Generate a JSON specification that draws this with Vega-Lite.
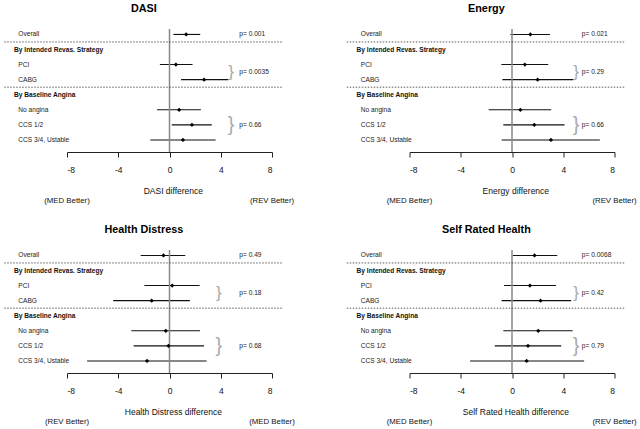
{
  "$schema": "https://vega.github.io/schema/vega-lite/v6.json",
  "padding": {"left": 3, "top": 3, "right": 0, "bottom": 0},
  "background": "white",
  "config": {"view": {"stroke": null}, "font": "Liberation Sans"},
  "data": {"values": [
    {"kind": "title", "panel": "DASI", "label": "DASI", "axis": "DASI difference"},
    {"kind": "title", "panel": "Energy", "label": "Energy", "axis": "Energy difference"},
    {"kind": "title", "panel": "Health Distress", "label": "Health Distress", "axis": "Health Distress difference"},
    {"kind": "title", "panel": "Self Rated Health", "label": "Self Rated Health", "axis": "Self Rated Health difference"},
    {"kind": "better", "panel": "DASI", "label": "(MED Better)", "bx": -8},
    {"kind": "better", "panel": "DASI", "label": "(REV Better)", "bx": 8},
    {"kind": "better", "panel": "Energy", "label": "(MED Better)", "bx": -8},
    {"kind": "better", "panel": "Energy", "label": "(REV Better)", "bx": 8},
    {"kind": "better", "panel": "Health Distress", "label": "(REV Better)", "bx": -8},
    {"kind": "better", "panel": "Health Distress", "label": "(MED Better)", "bx": 8},
    {"kind": "better", "panel": "Self Rated Health", "label": "(MED Better)", "bx": -8},
    {"kind": "better", "panel": "Self Rated Health", "label": "(REV Better)", "bx": 8},
    {"kind": "item", "panel": "DASI", "row": 0, "label": "Overall", "est": 1.3, "lo": 0.3, "hi": 2.4},
    {"kind": "item", "panel": "DASI", "row": 2, "label": "PCI", "est": 0.5, "lo": -0.75, "hi": 1.8},
    {"kind": "item", "panel": "DASI", "row": 3, "label": "CABG", "est": 2.7, "lo": 0.9, "hi": 4.6},
    {"kind": "item", "panel": "DASI", "row": 5, "label": "No angina", "est": 0.75, "lo": -0.97, "hi": 2.45},
    {"kind": "item", "panel": "DASI", "row": 6, "label": "CCS 1/2", "est": 1.75, "lo": 0.18, "hi": 3.3},
    {"kind": "item", "panel": "DASI", "row": 7, "label": "CCS 3/4, Ustable", "est": 1.05, "lo": -1.5, "hi": 3.6},
    {"kind": "item", "panel": "Energy", "row": 0, "label": "Overall", "est": 1.43, "lo": -0.13, "hi": 2.96},
    {"kind": "item", "panel": "Energy", "row": 2, "label": "PCI", "est": 1.0, "lo": -0.83, "hi": 2.83},
    {"kind": "item", "panel": "Energy", "row": 3, "label": "CABG", "est": 2.0, "lo": -0.75, "hi": 4.8},
    {"kind": "item", "panel": "Energy", "row": 5, "label": "No angina", "est": 0.65, "lo": -1.82, "hi": 3.06},
    {"kind": "item", "panel": "Energy", "row": 6, "label": "CCS 1/2", "est": 1.74, "lo": -0.68, "hi": 4.1},
    {"kind": "item", "panel": "Energy", "row": 7, "label": "CCS 3/4, Ustable", "est": 3.04, "lo": -0.81, "hi": 6.86},
    {"kind": "item", "panel": "Health Distress", "row": 0, "label": "Overall", "est": -0.47, "lo": -2.25, "hi": 1.23},
    {"kind": "item", "panel": "Health Distress", "row": 2, "label": "PCI", "est": 0.21, "lo": -1.96, "hi": 2.35},
    {"kind": "item", "panel": "Health Distress", "row": 3, "label": "CABG", "est": -1.39, "lo": -4.39, "hi": 1.59},
    {"kind": "item", "panel": "Health Distress", "row": 5, "label": "No angina", "est": -0.29, "lo": -2.98, "hi": 2.38},
    {"kind": "item", "panel": "Health Distress", "row": 6, "label": "CCS 1/2", "est": -0.08, "lo": -2.8, "hi": 2.69},
    {"kind": "item", "panel": "Health Distress", "row": 7, "label": "CCS 3/4, Ustable", "est": -1.75, "lo": -6.43, "hi": 2.9},
    {"kind": "item", "panel": "Self Rated Health", "row": 0, "label": "Overall", "est": 1.76, "lo": 0.05, "hi": 3.53},
    {"kind": "item", "panel": "Self Rated Health", "row": 2, "label": "PCI", "est": 1.4, "lo": -0.63, "hi": 3.43},
    {"kind": "item", "panel": "Self Rated Health", "row": 3, "label": "CABG", "est": 2.23, "lo": -0.81, "hi": 4.62},
    {"kind": "item", "panel": "Self Rated Health", "row": 5, "label": "No angina", "est": 2.05, "lo": -0.68, "hi": 4.73},
    {"kind": "item", "panel": "Self Rated Health", "row": 6, "label": "CCS 1/2", "est": 1.25, "lo": -1.35, "hi": 3.84},
    {"kind": "item", "panel": "Self Rated Health", "row": 7, "label": "CCS 3/4, Ustable", "est": 1.14, "lo": -3.27, "hi": 5.63},
    {"kind": "header", "panel": "DASI", "row": 1, "label": "By Intended Revas. Strategy"},
    {"kind": "header", "panel": "DASI", "row": 4, "label": "By Baseline Angina"},
    {"kind": "header", "panel": "Energy", "row": 1, "label": "By Intended Revas. Strategy"},
    {"kind": "header", "panel": "Energy", "row": 4, "label": "By Baseline Angina"},
    {"kind": "header", "panel": "Health Distress", "row": 1, "label": "By Intended Revas. Strategy"},
    {"kind": "header", "panel": "Health Distress", "row": 4, "label": "By Baseline Angina"},
    {"kind": "header", "panel": "Self Rated Health", "row": 1, "label": "By Intended Revas. Strategy"},
    {"kind": "header", "panel": "Self Rated Health", "row": 4, "label": "By Baseline Angina"},
    {"kind": "sep", "panel": "DASI", "row": 0.5},
    {"kind": "sep", "panel": "DASI", "row": 3.5},
    {"kind": "sep", "panel": "Energy", "row": 0.5},
    {"kind": "sep", "panel": "Energy", "row": 3.5},
    {"kind": "sep", "panel": "Health Distress", "row": 0.5},
    {"kind": "sep", "panel": "Health Distress", "row": 3.5},
    {"kind": "sep", "panel": "Self Rated Health", "row": 0.5},
    {"kind": "sep", "panel": "Self Rated Health", "row": 3.5},
    {"kind": "p", "panel": "DASI", "row": 0, "label": "p= 0.001"},
    {"kind": "p", "panel": "DASI", "row": 2.5, "label": "p= 0.0035"},
    {"kind": "p", "panel": "DASI", "row": 6, "label": "p= 0.66"},
    {"kind": "p", "panel": "Energy", "row": 0, "label": "p= 0.021"},
    {"kind": "p", "panel": "Energy", "row": 2.5, "label": "p= 0.29"},
    {"kind": "p", "panel": "Energy", "row": 6, "label": "p= 0.66"},
    {"kind": "p", "panel": "Health Distress", "row": 0, "label": "p= 0.49"},
    {"kind": "p", "panel": "Health Distress", "row": 2.5, "label": "p= 0.18"},
    {"kind": "p", "panel": "Health Distress", "row": 6, "label": "p= 0.68"},
    {"kind": "p", "panel": "Self Rated Health", "row": 0, "label": "p= 0.0068"},
    {"kind": "p", "panel": "Self Rated Health", "row": 2.5, "label": "p= 0.42"},
    {"kind": "p", "panel": "Self Rated Health", "row": 6, "label": "p= 0.79"},
    {"kind": "brace", "group": "s", "panel": "DASI", "row": 2.5, "bx": 4.8},
    {"kind": "brace", "group": "a", "panel": "DASI", "row": 6, "bx": 4.8},
    {"kind": "brace", "group": "s", "panel": "Energy", "row": 2.5, "bx": 5.0},
    {"kind": "brace", "group": "a", "panel": "Energy", "row": 6, "bx": 5.0},
    {"kind": "brace", "group": "s", "panel": "Health Distress", "row": 2.5, "bx": 3.86},
    {"kind": "brace", "group": "a", "panel": "Health Distress", "row": 6, "bx": 3.86},
    {"kind": "brace", "group": "s", "panel": "Self Rated Health", "row": 2.5, "bx": 5.0},
    {"kind": "brace", "group": "a", "panel": "Self Rated Health", "row": 6, "bx": 5.0}
  ]},
  "columns": 2,
  "bounds": "flush",
  "spacing": {"row": 98, "column": 137.5},
  "concat": [
    {
      "width": 205, "height": 123,
      "transform": [{"filter": "datum.panel === 'DASI'"}],
      "layer": [
        {"transform": [{"filter": "datum.kind === 'item'"}], "mark": {"type": "rule", "color": "#111", "strokeWidth": 1.1},
          "encoding": {
            "x": {"field": "lo", "type": "quantitative", "scale": {"domain": [-8, 8], "nice": false, "zero": false},
              "axis": {"values": [-8, -4, 0, 4, 8], "title": null, "grid": false, "domain": true, "domainColor": "#222", "domainWidth": 1, "ticks": true, "tickColor": "#222", "tickSize": 5, "tickWidth": 1, "labelFontSize": 8.5, "labelColor": "#111", "labelPadding": 8, "labelExpr": "'' + datum.value", "labelFont": "Liberation Sans"}},
            "x2": {"field": "hi"},
            "y": {"field": "row", "type": "quantitative", "scale": {"domain": [-0.36, 7.8], "reverse": true, "nice": false, "zero": false}, "axis": null}}},
        {"transform": [{"filter": "datum.kind === 'title'"}], "mark": {"type": "rule", "color": "#888", "strokeWidth": 1.5},
          "encoding": {"x": {"datum": 0, "type": "quantitative", "title": null}}},
        {"transform": [{"filter": "datum.kind === 'sep'"}], "mark": {"type": "rule", "color": "#333", "strokeWidth": 0.8, "strokeDash": [1.5, 1.5]},
          "encoding": {"x": {"datum": -12.9, "type": "quantitative", "title": null}, "x2": {"datum": 8.87}, "y": {"field": "row", "type": "quantitative", "axis": null}}},
        {"transform": [{"filter": "datum.kind === 'item'"}], "mark": {"type": "point", "shape": "diamond", "filled": true, "color": "#000", "size": 18, "opacity": 1},
          "encoding": {"x": {"field": "est", "type": "quantitative", "title": null}, "y": {"field": "row", "type": "quantitative", "axis": null}}},
        {"transform": [{"filter": "datum.kind === 'item'"}], "mark": {"type": "text", "align": "left", "baseline": "middle", "fontSize": 6.6, "color": "#222"},
          "encoding": {"x": {"datum": -11.8, "type": "quantitative", "title": null}, "y": {"field": "row", "type": "quantitative", "axis": null}, "text": {"field": "label"}}},
        {"transform": [{"filter": "datum.kind === 'header'"}], "mark": {"type": "text", "align": "left", "baseline": "middle", "fontSize": 6.6, "fontWeight": "bold", "color": "#111"},
          "encoding": {"x": {"datum": -12.13, "type": "quantitative", "title": null}, "y": {"field": "row", "type": "quantitative", "axis": null}, "text": {"field": "label"}}},
        {"transform": [{"filter": "datum.kind === 'p'"}], "mark": {"type": "text", "align": "left", "baseline": "middle", "fontSize": 6.6, "color": "#222"},
          "encoding": {"x": {"datum": 5.45, "type": "quantitative", "title": null}, "y": {"field": "row", "type": "quantitative", "axis": null}, "text": {"field": "label"}}},
        {"transform": [{"filter": "datum.kind === 'brace' && datum.group === 's'"}], "mark": {"type": "text", "align": "center", "baseline": "middle", "fontSize": 17, "color": "#aaa", "text": "}"},
          "encoding": {"x": {"field": "bx", "type": "quantitative", "title": null}, "y": {"field": "row", "type": "quantitative", "axis": null}}},
        {"transform": [{"filter": "datum.kind === 'brace' && datum.group === 'a'"}], "mark": {"type": "text", "align": "center", "baseline": "middle", "fontSize": 20, "color": "#aaa", "text": "}"},
          "encoding": {"x": {"field": "bx", "type": "quantitative", "title": null}, "y": {"field": "row", "type": "quantitative", "axis": null}}},
        {"transform": [{"filter": "datum.kind === 'title'"}], "mark": {"type": "text", "align": "center", "baseline": "middle", "fontSize": 10.8, "fontWeight": "bold", "color": "#000"},
          "encoding": {"x": {"datum": -2, "type": "quantitative", "title": null}, "y": {"datum": -1.67, "type": "quantitative", "axis": null}, "text": {"field": "label"}}},
        {"transform": [{"filter": "datum.kind === 'title'"}], "mark": {"type": "text", "align": "center", "baseline": "middle", "fontSize": 8.5, "color": "#111"},
          "encoding": {"x": {"datum": 0.3, "type": "quantitative", "title": null}, "y": {"datum": 10.37, "type": "quantitative", "axis": null}, "text": {"field": "axis"}}},
        {"transform": [{"filter": "datum.kind === 'better'"}], "mark": {"type": "text", "align": "center", "baseline": "middle", "fontSize": 7.8, "color": "#111"},
          "encoding": {"x": {"field": "bx", "type": "quantitative", "title": null}, "y": {"datum": 11.07, "type": "quantitative", "axis": null}, "text": {"field": "label"}}}
      ]
    },
    {
      "width": 205, "height": 123,
      "transform": [{"filter": "datum.panel === 'Energy'"}],
      "layer": [
        {"transform": [{"filter": "datum.kind === 'item'"}], "mark": {"type": "rule", "color": "#111", "strokeWidth": 1.1},
          "encoding": {
            "x": {"field": "lo", "type": "quantitative", "scale": {"domain": [-8, 8], "nice": false, "zero": false},
              "axis": {"values": [-8, -4, 0, 4, 8], "title": null, "grid": false, "domain": true, "domainColor": "#222", "domainWidth": 1, "ticks": true, "tickColor": "#222", "tickSize": 5, "tickWidth": 1, "labelFontSize": 8.5, "labelColor": "#111", "labelPadding": 8, "labelExpr": "'' + datum.value", "labelFont": "Liberation Sans"}},
            "x2": {"field": "hi"},
            "y": {"field": "row", "type": "quantitative", "scale": {"domain": [-0.36, 7.8], "reverse": true, "nice": false, "zero": false}, "axis": null}}},
        {"transform": [{"filter": "datum.kind === 'title'"}], "mark": {"type": "rule", "color": "#888", "strokeWidth": 1.5},
          "encoding": {"x": {"datum": 0, "type": "quantitative", "title": null}}},
        {"transform": [{"filter": "datum.kind === 'sep'"}], "mark": {"type": "rule", "color": "#333", "strokeWidth": 0.8, "strokeDash": [1.5, 1.5]},
          "encoding": {"x": {"datum": -12.9, "type": "quantitative", "title": null}, "x2": {"datum": 8.87}, "y": {"field": "row", "type": "quantitative", "axis": null}}},
        {"transform": [{"filter": "datum.kind === 'item'"}], "mark": {"type": "point", "shape": "diamond", "filled": true, "color": "#000", "size": 18, "opacity": 1},
          "encoding": {"x": {"field": "est", "type": "quantitative", "title": null}, "y": {"field": "row", "type": "quantitative", "axis": null}}},
        {"transform": [{"filter": "datum.kind === 'item'"}], "mark": {"type": "text", "align": "left", "baseline": "middle", "fontSize": 6.6, "color": "#222"},
          "encoding": {"x": {"datum": -11.8, "type": "quantitative", "title": null}, "y": {"field": "row", "type": "quantitative", "axis": null}, "text": {"field": "label"}}},
        {"transform": [{"filter": "datum.kind === 'header'"}], "mark": {"type": "text", "align": "left", "baseline": "middle", "fontSize": 6.6, "fontWeight": "bold", "color": "#111"},
          "encoding": {"x": {"datum": -12.13, "type": "quantitative", "title": null}, "y": {"field": "row", "type": "quantitative", "axis": null}, "text": {"field": "label"}}},
        {"transform": [{"filter": "datum.kind === 'p'"}], "mark": {"type": "text", "align": "left", "baseline": "middle", "fontSize": 6.6, "color": "#222"},
          "encoding": {"x": {"datum": 5.45, "type": "quantitative", "title": null}, "y": {"field": "row", "type": "quantitative", "axis": null}, "text": {"field": "label"}}},
        {"transform": [{"filter": "datum.kind === 'brace' && datum.group === 's'"}], "mark": {"type": "text", "align": "center", "baseline": "middle", "fontSize": 17, "color": "#aaa", "text": "}"},
          "encoding": {"x": {"field": "bx", "type": "quantitative", "title": null}, "y": {"field": "row", "type": "quantitative", "axis": null}}},
        {"transform": [{"filter": "datum.kind === 'brace' && datum.group === 'a'"}], "mark": {"type": "text", "align": "center", "baseline": "middle", "fontSize": 20, "color": "#aaa", "text": "}"},
          "encoding": {"x": {"field": "bx", "type": "quantitative", "title": null}, "y": {"field": "row", "type": "quantitative", "axis": null}}},
        {"transform": [{"filter": "datum.kind === 'title'"}], "mark": {"type": "text", "align": "center", "baseline": "middle", "fontSize": 10.8, "fontWeight": "bold", "color": "#000"},
          "encoding": {"x": {"datum": -2, "type": "quantitative", "title": null}, "y": {"datum": -1.67, "type": "quantitative", "axis": null}, "text": {"field": "label"}}},
        {"transform": [{"filter": "datum.kind === 'title'"}], "mark": {"type": "text", "align": "center", "baseline": "middle", "fontSize": 8.5, "color": "#111"},
          "encoding": {"x": {"datum": 0.3, "type": "quantitative", "title": null}, "y": {"datum": 10.37, "type": "quantitative", "axis": null}, "text": {"field": "axis"}}},
        {"transform": [{"filter": "datum.kind === 'better'"}], "mark": {"type": "text", "align": "center", "baseline": "middle", "fontSize": 7.8, "color": "#111"},
          "encoding": {"x": {"field": "bx", "type": "quantitative", "title": null}, "y": {"datum": 11.07, "type": "quantitative", "axis": null}, "text": {"field": "label"}}}
      ]
    },
    {
      "width": 205, "height": 123,
      "transform": [{"filter": "datum.panel === 'Health Distress'"}],
      "layer": [
        {"transform": [{"filter": "datum.kind === 'item'"}], "mark": {"type": "rule", "color": "#111", "strokeWidth": 1.1},
          "encoding": {
            "x": {"field": "lo", "type": "quantitative", "scale": {"domain": [-8, 8], "nice": false, "zero": false},
              "axis": {"values": [-8, -4, 0, 4, 8], "title": null, "grid": false, "domain": true, "domainColor": "#222", "domainWidth": 1, "ticks": true, "tickColor": "#222", "tickSize": 5, "tickWidth": 1, "labelFontSize": 8.5, "labelColor": "#111", "labelPadding": 8, "labelExpr": "'' + datum.value", "labelFont": "Liberation Sans"}},
            "x2": {"field": "hi"},
            "y": {"field": "row", "type": "quantitative", "scale": {"domain": [-0.36, 7.8], "reverse": true, "nice": false, "zero": false}, "axis": null}}},
        {"transform": [{"filter": "datum.kind === 'title'"}], "mark": {"type": "rule", "color": "#888", "strokeWidth": 1.5},
          "encoding": {"x": {"datum": 0, "type": "quantitative", "title": null}}},
        {"transform": [{"filter": "datum.kind === 'sep'"}], "mark": {"type": "rule", "color": "#333", "strokeWidth": 0.8, "strokeDash": [1.5, 1.5]},
          "encoding": {"x": {"datum": -12.9, "type": "quantitative", "title": null}, "x2": {"datum": 8.87}, "y": {"field": "row", "type": "quantitative", "axis": null}}},
        {"transform": [{"filter": "datum.kind === 'item'"}], "mark": {"type": "point", "shape": "diamond", "filled": true, "color": "#000", "size": 18, "opacity": 1},
          "encoding": {"x": {"field": "est", "type": "quantitative", "title": null}, "y": {"field": "row", "type": "quantitative", "axis": null}}},
        {"transform": [{"filter": "datum.kind === 'item'"}], "mark": {"type": "text", "align": "left", "baseline": "middle", "fontSize": 6.6, "color": "#222"},
          "encoding": {"x": {"datum": -11.8, "type": "quantitative", "title": null}, "y": {"field": "row", "type": "quantitative", "axis": null}, "text": {"field": "label"}}},
        {"transform": [{"filter": "datum.kind === 'header'"}], "mark": {"type": "text", "align": "left", "baseline": "middle", "fontSize": 6.6, "fontWeight": "bold", "color": "#111"},
          "encoding": {"x": {"datum": -12.13, "type": "quantitative", "title": null}, "y": {"field": "row", "type": "quantitative", "axis": null}, "text": {"field": "label"}}},
        {"transform": [{"filter": "datum.kind === 'p'"}], "mark": {"type": "text", "align": "left", "baseline": "middle", "fontSize": 6.6, "color": "#222"},
          "encoding": {"x": {"datum": 5.45, "type": "quantitative", "title": null}, "y": {"field": "row", "type": "quantitative", "axis": null}, "text": {"field": "label"}}},
        {"transform": [{"filter": "datum.kind === 'brace' && datum.group === 's'"}], "mark": {"type": "text", "align": "center", "baseline": "middle", "fontSize": 17, "color": "#aaa", "text": "}"},
          "encoding": {"x": {"field": "bx", "type": "quantitative", "title": null}, "y": {"field": "row", "type": "quantitative", "axis": null}}},
        {"transform": [{"filter": "datum.kind === 'brace' && datum.group === 'a'"}], "mark": {"type": "text", "align": "center", "baseline": "middle", "fontSize": 20, "color": "#aaa", "text": "}"},
          "encoding": {"x": {"field": "bx", "type": "quantitative", "title": null}, "y": {"field": "row", "type": "quantitative", "axis": null}}},
        {"transform": [{"filter": "datum.kind === 'title'"}], "mark": {"type": "text", "align": "center", "baseline": "middle", "fontSize": 10.8, "fontWeight": "bold", "color": "#000"},
          "encoding": {"x": {"datum": -2, "type": "quantitative", "title": null}, "y": {"datum": -1.67, "type": "quantitative", "axis": null}, "text": {"field": "label"}}},
        {"transform": [{"filter": "datum.kind === 'title'"}], "mark": {"type": "text", "align": "center", "baseline": "middle", "fontSize": 8.5, "color": "#111"},
          "encoding": {"x": {"datum": 0.3, "type": "quantitative", "title": null}, "y": {"datum": 10.37, "type": "quantitative", "axis": null}, "text": {"field": "axis"}}},
        {"transform": [{"filter": "datum.kind === 'better'"}], "mark": {"type": "text", "align": "center", "baseline": "middle", "fontSize": 7.8, "color": "#111"},
          "encoding": {"x": {"field": "bx", "type": "quantitative", "title": null}, "y": {"datum": 11.07, "type": "quantitative", "axis": null}, "text": {"field": "label"}}}
      ]
    },
    {
      "width": 205, "height": 123,
      "transform": [{"filter": "datum.panel === 'Self Rated Health'"}],
      "layer": [
        {"transform": [{"filter": "datum.kind === 'item'"}], "mark": {"type": "rule", "color": "#111", "strokeWidth": 1.1},
          "encoding": {
            "x": {"field": "lo", "type": "quantitative", "scale": {"domain": [-8, 8], "nice": false, "zero": false},
              "axis": {"values": [-8, -4, 0, 4, 8], "title": null, "grid": false, "domain": true, "domainColor": "#222", "domainWidth": 1, "ticks": true, "tickColor": "#222", "tickSize": 5, "tickWidth": 1, "labelFontSize": 8.5, "labelColor": "#111", "labelPadding": 8, "labelExpr": "'' + datum.value", "labelFont": "Liberation Sans"}},
            "x2": {"field": "hi"},
            "y": {"field": "row", "type": "quantitative", "scale": {"domain": [-0.36, 7.8], "reverse": true, "nice": false, "zero": false}, "axis": null}}},
        {"transform": [{"filter": "datum.kind === 'title'"}], "mark": {"type": "rule", "color": "#888", "strokeWidth": 1.5},
          "encoding": {"x": {"datum": 0, "type": "quantitative", "title": null}}},
        {"transform": [{"filter": "datum.kind === 'sep'"}], "mark": {"type": "rule", "color": "#333", "strokeWidth": 0.8, "strokeDash": [1.5, 1.5]},
          "encoding": {"x": {"datum": -12.9, "type": "quantitative", "title": null}, "x2": {"datum": 8.87}, "y": {"field": "row", "type": "quantitative", "axis": null}}},
        {"transform": [{"filter": "datum.kind === 'item'"}], "mark": {"type": "point", "shape": "diamond", "filled": true, "color": "#000", "size": 18, "opacity": 1},
          "encoding": {"x": {"field": "est", "type": "quantitative", "title": null}, "y": {"field": "row", "type": "quantitative", "axis": null}}},
        {"transform": [{"filter": "datum.kind === 'item'"}], "mark": {"type": "text", "align": "left", "baseline": "middle", "fontSize": 6.6, "color": "#222"},
          "encoding": {"x": {"datum": -11.8, "type": "quantitative", "title": null}, "y": {"field": "row", "type": "quantitative", "axis": null}, "text": {"field": "label"}}},
        {"transform": [{"filter": "datum.kind === 'header'"}], "mark": {"type": "text", "align": "left", "baseline": "middle", "fontSize": 6.6, "fontWeight": "bold", "color": "#111"},
          "encoding": {"x": {"datum": -12.13, "type": "quantitative", "title": null}, "y": {"field": "row", "type": "quantitative", "axis": null}, "text": {"field": "label"}}},
        {"transform": [{"filter": "datum.kind === 'p'"}], "mark": {"type": "text", "align": "left", "baseline": "middle", "fontSize": 6.6, "color": "#222"},
          "encoding": {"x": {"datum": 5.45, "type": "quantitative", "title": null}, "y": {"field": "row", "type": "quantitative", "axis": null}, "text": {"field": "label"}}},
        {"transform": [{"filter": "datum.kind === 'brace' && datum.group === 's'"}], "mark": {"type": "text", "align": "center", "baseline": "middle", "fontSize": 17, "color": "#aaa", "text": "}"},
          "encoding": {"x": {"field": "bx", "type": "quantitative", "title": null}, "y": {"field": "row", "type": "quantitative", "axis": null}}},
        {"transform": [{"filter": "datum.kind === 'brace' && datum.group === 'a'"}], "mark": {"type": "text", "align": "center", "baseline": "middle", "fontSize": 20, "color": "#aaa", "text": "}"},
          "encoding": {"x": {"field": "bx", "type": "quantitative", "title": null}, "y": {"field": "row", "type": "quantitative", "axis": null}}},
        {"transform": [{"filter": "datum.kind === 'title'"}], "mark": {"type": "text", "align": "center", "baseline": "middle", "fontSize": 10.8, "fontWeight": "bold", "color": "#000"},
          "encoding": {"x": {"datum": -2, "type": "quantitative", "title": null}, "y": {"datum": -1.67, "type": "quantitative", "axis": null}, "text": {"field": "label"}}},
        {"transform": [{"filter": "datum.kind === 'title'"}], "mark": {"type": "text", "align": "center", "baseline": "middle", "fontSize": 8.5, "color": "#111"},
          "encoding": {"x": {"datum": 0.3, "type": "quantitative", "title": null}, "y": {"datum": 10.37, "type": "quantitative", "axis": null}, "text": {"field": "axis"}}},
        {"transform": [{"filter": "datum.kind === 'better'"}], "mark": {"type": "text", "align": "center", "baseline": "middle", "fontSize": 7.8, "color": "#111"},
          "encoding": {"x": {"field": "bx", "type": "quantitative", "title": null}, "y": {"datum": 11.07, "type": "quantitative", "axis": null}, "text": {"field": "label"}}}
      ]
    }
  ]
}
